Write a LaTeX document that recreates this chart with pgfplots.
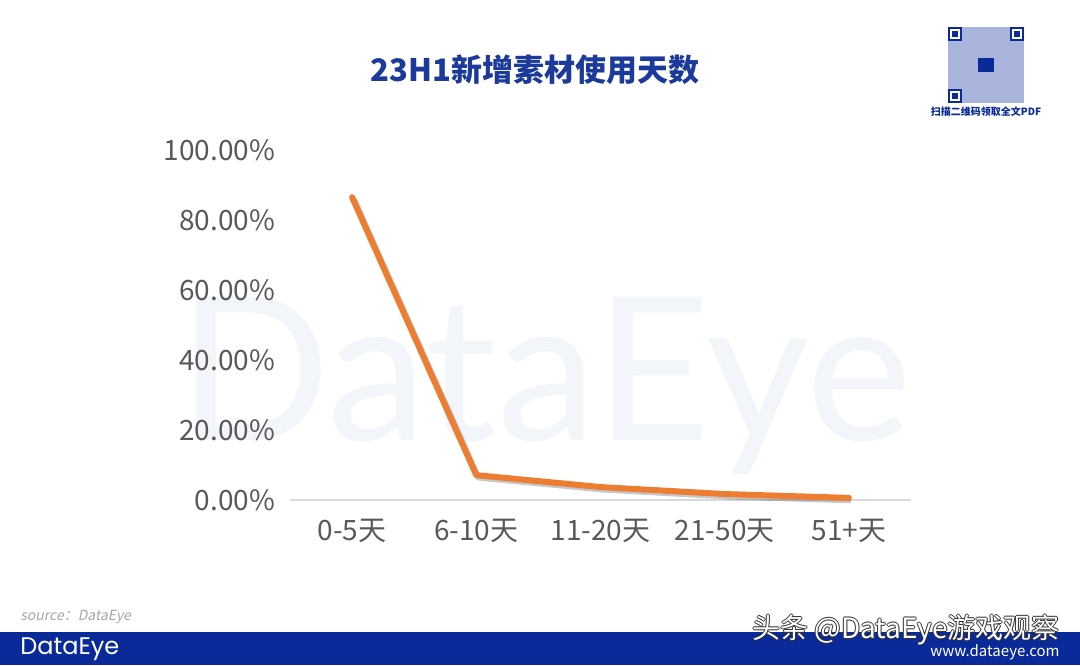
\documentclass[border=0pt]{standalone}
\usepackage{fontspec}
\setmainfont{Noto Sans CJK SC}
\newfontfamily\popp{Poppins}
\newfontfamily\latof{Lato}
\newfontfamily\slantfont[FakeSlant=0.2]{Noto Sans CJK SC}
\usepackage{pgfplots}
\pgfplotsset{compat=1.18}
\definecolor{titleblue}{HTML}{1B3A9B}
\definecolor{barblue}{HTML}{0A2A9A}
\definecolor{lineorange}{HTML}{ED7D31}
\definecolor{tickgray}{HTML}{595959}
\definecolor{axisgray}{HTML}{D9D9D9}
\definecolor{wmcolor}{HTML}{F2F6FB}
\definecolor{qrfill}{HTML}{A9B4DD}
\definecolor{srcgray}{HTML}{A6A6A6}
\begin{document}
\begin{tikzpicture}
\fill[white] (0,0) rectangle (540pt,332.5pt);
\useasboundingbox (0,0) rectangle (540pt,332.5pt);
% watermark
\node[text=wmcolor, font=\latof\fontsize{100}{100}\selectfont, inner sep=0pt, anchor=base] at (272.5pt,112.5pt) {DataEye};
% title
\node[text=titleblue, font=\bfseries\fontsize{15.5}{15.5}\selectfont] at (267.5pt,297.5pt) {23H1新增素材使用天数};
\begin{axis}[
  at={(145pt,82.5pt)}, anchor=south west,
  scale only axis, width=310.5pt, height=175pt,
  xmin=-0.5, xmax=4.5, ymin=0, ymax=100,
  xtick={0,1,2,3,4},
  xticklabels={0-5天,6-10天,11-20天,21-50天,51+天},
  ytick={0,20,40,60,80,100},
  yticklabels={0.00\%,20.00\%,40.00\%,60.00\%,80.00\%,100.00\%},
  axis lines=left,
  axis line style={-},
  x axis line style={draw=axisgray, line width=1pt},
  y axis line style={draw=none},
  major tick length=0pt,
  tick label style={font=\fontsize{14}{14}\selectfont, text=tickgray},
  yticklabel style={xshift=-4pt},
  xticklabel style={yshift=-6pt},
  clip=false,
]
\addplot[draw=black, opacity=0.22, line width=3pt, line join=round, transform canvas={xshift=1pt,yshift=-1.2pt}]
  coordinates {(0,86.5) (1,7.1) (2,3.7) (3,1.7) (4,0.6)};
\addplot[draw=lineorange, line width=3pt, line join=round, line cap=round]
  coordinates {(0,86.5) (1,7.1) (2,3.7) (3,1.7) (4,0.6)};
\end{axis}
% QR placeholder
\fill[qrfill] (474pt,281pt) rectangle (512pt,319pt);
\foreach \x/\y in {474/312, 505/312, 474/281}{
  \fill[barblue] (\x pt,\y pt) rectangle ++(7pt,7pt);
  \fill[white] (\x pt+1pt,\y pt+1pt) rectangle ++(5pt,5pt);
  \fill[barblue] (\x pt+2pt,\y pt+2pt) rectangle ++(3pt,3pt);
}
\fill[barblue] (489pt,296.5pt) rectangle (497pt,303.5pt);
\node[text=barblue, font=\bfseries\fontsize{5}{5}\selectfont, inner sep=0pt] at (493pt,276.5pt) {扫描二维码领取全文PDF};
% source
\node[text=srcgray, font=\slantfont\fontsize{7}{7}\selectfont, anchor=west, inner sep=0pt] at (10pt,24pt) {source：DataEye};
% bottom bar
\fill[barblue] (0,0) rectangle (540pt,16.5pt);
\node[text=white, font=\popp\fontsize{12}{12}\selectfont, anchor=west, inner sep=0pt] at (10pt,8pt) {DataEye};
\node[text=white, font=\fontsize{7.5}{7.5}\selectfont, anchor=east, inner sep=0pt] at (530pt,6.5pt) {www.dataeye.com};
% overlay watermark
\foreach \dx/\dy in {0.5/0,-0.5/0,0/0.5,0/-0.5}{
  \node[text=black!80, font=\fontsize{14}{14}\selectfont, anchor=east, inner sep=0pt] at (530pt+\dx pt,17.5pt+\dy pt) {头条 @DataEye游戏观察};
}
\node[text=white, font=\fontsize{14}{14}\selectfont, anchor=east, inner sep=0pt] at (530pt,17.5pt) {头条 @DataEye游戏观察};
\end{tikzpicture}
\end{document}
